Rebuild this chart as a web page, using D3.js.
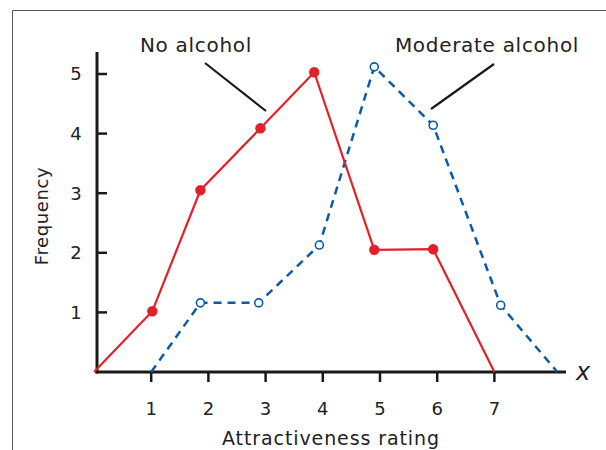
<!DOCTYPE html>
<html><head><meta charset="utf-8">
<script src="https://cdn.jsdelivr.net/npm/d3@7"></script>
<style>html,body{margin:0;padding:0;background:#fff;overflow:hidden}</style>
</head><body>
<svg id="c" width="606" height="450"></svg>
<script>
const xTicks = [1, 2, 3, 4, 5, 6, 7];
const yTicks = [1, 2, 3, 4, 5];
const noAlcoholX = [0, 1.02, 1.86, 2.91, 3.85, 4.9, 5.93, 7.0];
const noAlcoholY = [0, 1.02, 3.05, 4.09, 5.03, 2.05, 2.06, 0];
const moderateX = [1.0, 1.86, 2.88, 3.94, 4.9, 5.93, 7.11, 8.1];
const moderateY = [0, 1.16, 1.16, 2.13, 5.12, 4.14, 1.12, 0];
const seriesLabels = ["No alcohol", "Moderate alcohol"];
const xTitle = "Attractiveness rating";
const yTitle = "Frequency";

const svg = d3.select("#c");
const font = "'DejaVu Sans',sans-serif";
const x = d3.scaleLinear().domain([0, 8]).range([94, 551.6]);
const y = d3.scaleLinear().domain([0, 5]).range([372, 74]);

// frame
svg.append("path").attr("d","M12.5,450 L12.5,10.5 L606,10.5").attr("fill","none").attr("stroke","#555").attr("stroke-width",1);

// axes
const ax = svg.append("g").attr("stroke","#1a1a1a");
ax.append("line").attr("x1",97).attr("x2",97).attr("y1",52).attr("y2",373.5).attr("stroke-width",3);
ax.append("line").attr("x1",95.5).attr("x2",566).attr("y1",372).attr("y2",372).attr("stroke-width",3);
yTicks.forEach(t=>{
  ax.append("line").attr("x1",97).attr("x2",107).attr("y1",y(t)).attr("y2",y(t)).attr("stroke-width",2.5);
  svg.append("text").attr("x",76).attr("y",y(t)).attr("dy","0.36em").attr("text-anchor","middle")
    .attr("font-family",font).attr("font-size",18).attr("fill","#222").text(t);
});
xTicks.forEach(t=>{
  ax.append("line").attr("x1",x(t)).attr("x2",x(t)).attr("y1",372).attr("y2",382).attr("stroke-width",2.5);
  svg.append("text").attr("x",x(t)).attr("y",415).attr("text-anchor","middle")
    .attr("font-family",font).attr("font-size",18).attr("fill","#222").text(t);
});
svg.append("text").attr("x",583).attr("y",380).attr("text-anchor","middle").attr("font-style","italic")
  .attr("font-family",font).attr("font-size",24).attr("fill","#222").text("x");
svg.append("text").attr("x",331).attr("y",445).attr("text-anchor","middle").attr("letter-spacing",0.9)
  .attr("font-family",font).attr("font-size",19).attr("fill","#222").text(xTitle);
svg.append("text").attr("transform","translate(48,216) rotate(-90)").attr("text-anchor","middle").attr("letter-spacing",0.6)
  .attr("font-family",font).attr("font-size",18).attr("fill","#222").text(yTitle);

const line = d3.line().x(d=>x(d[0])).y(d=>y(d[1]));
const red = noAlcoholX.map((v,i)=>[v,noAlcoholY[i]]);
const blue = moderateX.map((v,i)=>[v,moderateY[i]]);

svg.append("path").datum(blue).attr("d",line).attr("fill","none").attr("stroke","#0a5aa8")
  .attr("stroke-width",2.5).attr("stroke-dasharray","8,6");
svg.append("path").datum(red).attr("d",line).attr("fill","none").attr("stroke","#e3202a").attr("stroke-width",2.2);

svg.selectAll(".rd").data(red.slice(1,-1)).enter().append("circle")
  .attr("cx",d=>x(d[0])).attr("cy",d=>y(d[1])).attr("r",5.2).attr("fill","#e3202a");
svg.selectAll(".bd").data(blue.slice(1,-1)).enter().append("circle")
  .attr("cx",d=>x(d[0])).attr("cy",d=>y(d[1])).attr("r",4).attr("fill","#fff").attr("stroke","#0a5aa8").attr("stroke-width",1.6);

// annotations
svg.append("text").attr("x",196).attr("y",52).attr("text-anchor","middle").attr("letter-spacing",0.7)
  .attr("font-family",font).attr("font-size",20).attr("fill","#222").text(seriesLabels[0]);
svg.append("text").attr("x",487).attr("y",52).attr("text-anchor","middle").attr("letter-spacing",0.7)
  .attr("font-family",font).attr("font-size",20).attr("fill","#222").text(seriesLabels[1]);
svg.append("line").attr("x1",205).attr("y1",63).attr("x2",266).attr("y2",111).attr("stroke","#1a1a1a").attr("stroke-width",2.2);
svg.append("line").attr("x1",494).attr("y1",64).attr("x2",431).attr("y2",109).attr("stroke","#1a1a1a").attr("stroke-width",2.2);
</script>
</body></html>
